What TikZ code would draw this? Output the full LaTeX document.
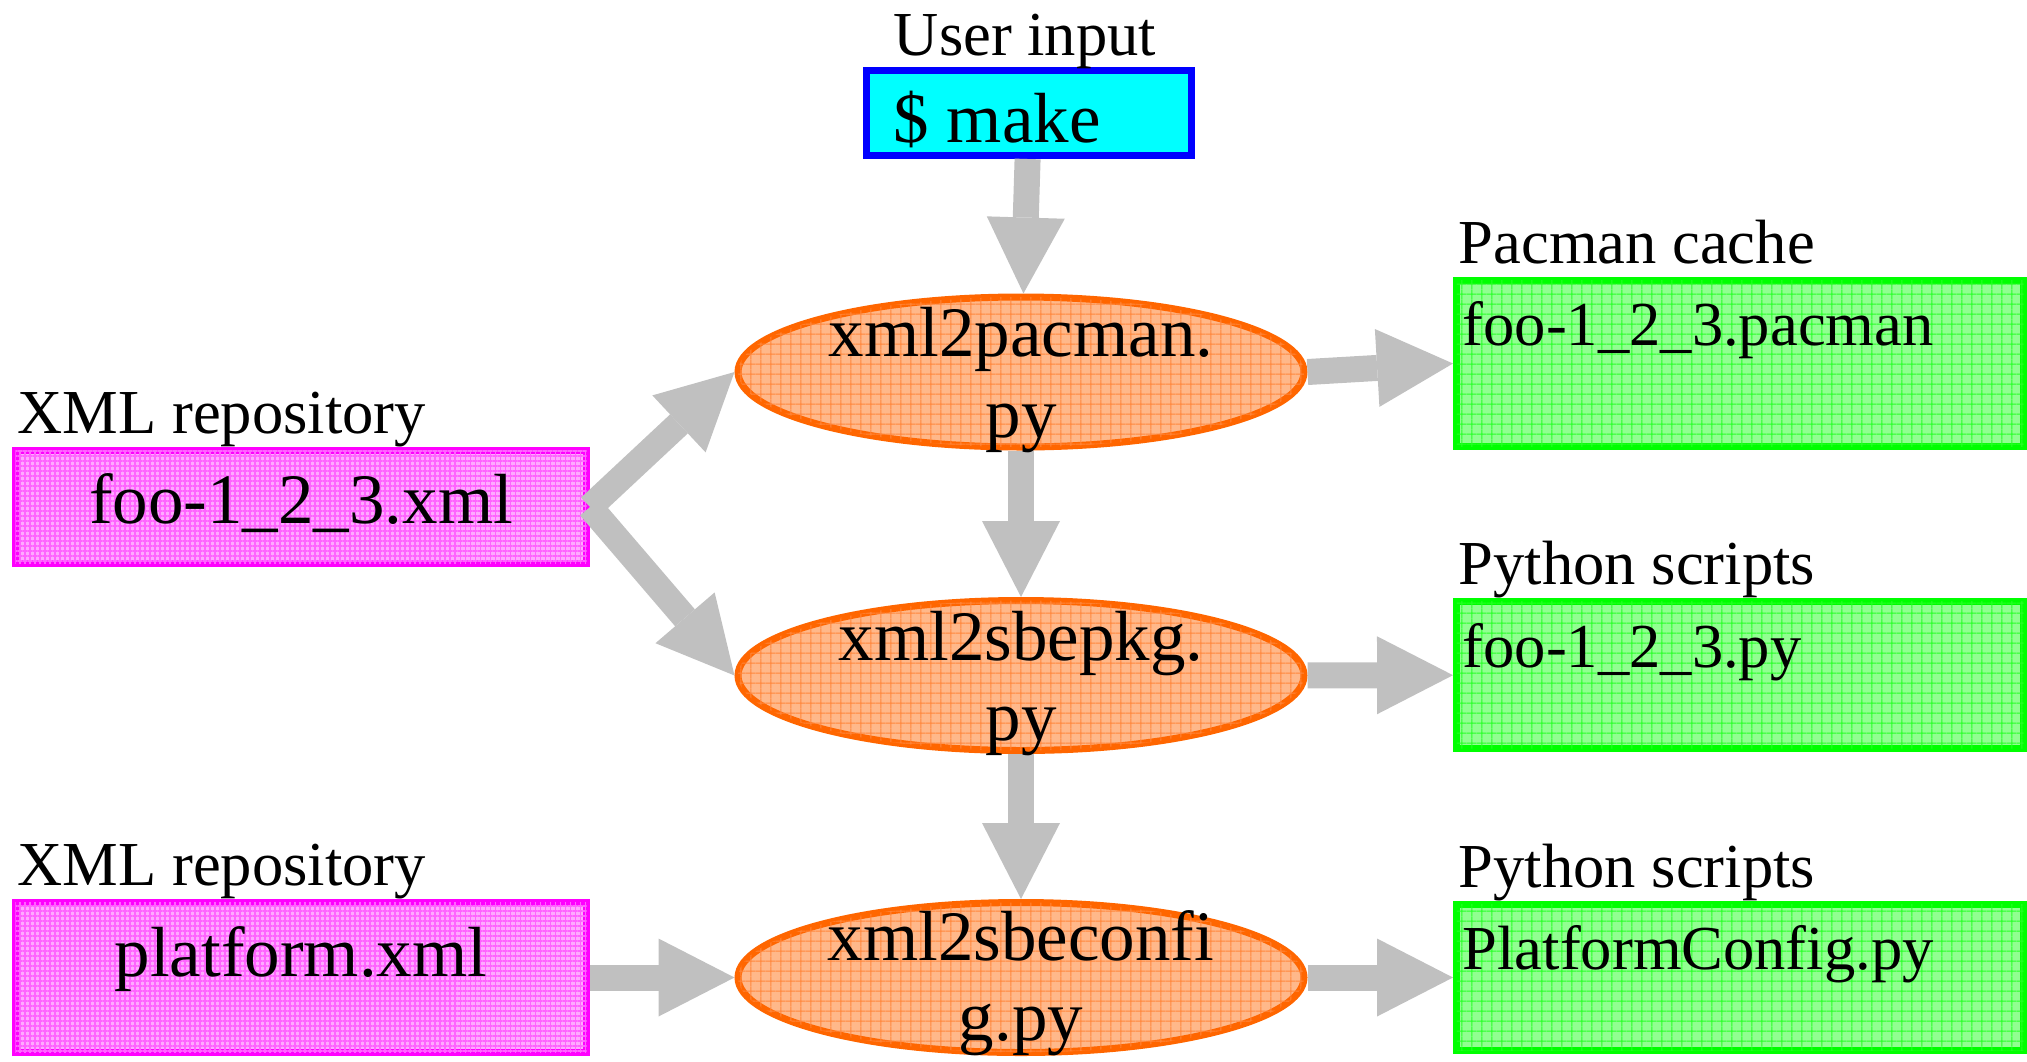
\documentclass[tikz,border=0pt]{standalone}
\usepackage{fontspec}
\setmainfont{Liberation Serif}
\usetikzlibrary{arrows.meta,patterns.meta,positioning,shapes.geometric}

\definecolor{cmdfill}{RGB}{0,255,255}
\definecolor{cmdline}{RGB}{0,0,255}
\definecolor{xmlline}{RGB}{255,0,255}
\definecolor{xmlfill}{RGB}{255,170,255}
\definecolor{xmlgrid}{RGB}{255,100,255}
\definecolor{genline}{RGB}{0,255,0}
\definecolor{genfill}{RGB}{145,255,145}
\definecolor{gengrid}{RGB}{40,255,40}
\definecolor{toolline}{RGB}{255,102,0}
\definecolor{toolfill}{RGB}{255,184,138}
\definecolor{toolgrid}{RGB}{255,135,60}
\definecolor{flowgray}{RGB}{192,192,192}

\newcommand{\tagsize}{\fontsize{17.8pt}{20pt}\selectfont}
\newcommand{\namesize}{\fontsize{20.2pt}{22.8pt}\selectfont}

\tikzset{
  filebox/.style={rectangle, line width=0.07cm, inner sep=0pt},
  cmdbox/.style={filebox, draw=cmdline, fill=cmdfill},
  xmlbox/.style={filebox, draw=xmlline, fill=xmlfill,
    minimum width=5.71cm,
    postaction={pattern={Hatch[angle=0,distance=0.05cm,line width=0.3pt]},
      pattern color=xmlgrid}},
  genbox/.style={filebox, draw=genline, fill=genfill,
    minimum width=5.67cm,
    postaction={pattern={Hatch[angle=0,distance=0.103cm,line width=0.3pt]},
      pattern color=gengrid}},
  tool/.style={ellipse, line width=0.07cm, inner sep=0pt,
    draw=toolline, fill=toolfill,
    minimum width=5.66cm, minimum height=1.50cm,
    postaction={pattern={Hatch[angle=0,distance=0.103cm,line width=0.3pt]},
      pattern color=toolgrid}},
  flow/.style={draw=flowgray, line width=0.26cm,
    -{Triangle[width=0.78cm,length=0.76cm,line width=0pt]}},
  tag/.style={font=\tagsize, inner sep=0pt, anchor=base west},
  fname/.style={font=\namesize, inner sep=0pt, anchor=base},
  toolname/.style={font=\namesize, inner sep=0pt, align=center},
}

\begin{document}
\begin{tikzpicture}[every node/.style={text=black}]
\useasboundingbox (0,0) rectangle (20.27,10.61);
% Command that starts the build
\node[cmdbox, minimum width=3.25cm, minimum height=0.85cm] (make) at (10.29,9.48) {};
% XML sources
\node[xmlbox, minimum height=1.13cm] (fooxml) at (3.01,5.54) {};
\node[xmlbox, minimum height=1.50cm] (platxml) at (3.01,0.835) {};
% Generator scripts
\node[tool] (pacgen) at (10.21,6.89) {};
\node[tool] (pkggen) at (10.21,3.855) {};
\node[tool] (cfggen) at (10.21,0.835) {};
% Generated files
\node[genbox, minimum height=1.66cm] (pacout) at (17.40,6.975) {};
\node[genbox, minimum height=1.47cm] (pyout) at (17.40,3.86) {};
\node[genbox, minimum height=1.46cm] (cfgout) at (17.40,0.835) {};
% Flow between the steps
\draw[flow] (make) -- (pacgen);
\draw[flow] (pacgen) -- (pkggen);
\draw[flow] (pkggen) -- (cfggen);
\draw[flow] (fooxml.east) -- (pacgen.west);
\draw[flow] (fooxml.east) -- (pkggen.west);
\draw[flow] (platxml) -- (cfggen);
\draw[flow] (pacgen.east) -- (pacout.west);
\draw[flow] (pkggen) -- (pyout);
\draw[flow] (cfggen) -- (cfgout);
% Captions above the boxes
\node[tag, anchor=base] (usertag) at ([shift={(-0.04,0.12)}]make.north) {User input};
\node[tag] (repotag1) at ([shift={(0.05,0.14)}]fooxml.north west) {XML repository};
\node[tag] (repotag2) at ([shift={(0.05,0.14)}]platxml.north west) {XML repository};
\node[tag] (cachetag) at ([shift={(0.05,0.14)}]pacout.north west) {Pacman cache};
\node[tag] (pytag1) at ([shift={(0.05,0.14)}]pyout.north west) {Python scripts};
\node[tag] (pytag2) at ([shift={(0.05,0.14)}]cfgout.north west) {Python scripts};
% Text inside the boxes
\node[fname, anchor=base west] (maketxt) at ([shift={(0.30,-0.75)}]make.north west) {\$ make};
\node[fname] (fooxmltxt) at ([yshift=-0.76cm]fooxml.north) {foo-1\_2\_3.xml};
\node[fname] (platxmltxt) at ([yshift=-0.77cm]platxml.north) {platform.xml};
\node[toolname] (pacgentxt) at ([yshift=-0.08cm]pacgen.center) {xml2pacman.\\py};
\node[toolname] (pkggentxt) at ([yshift=-0.08cm]pkggen.center) {xml2sbepkg.\\py};
\node[toolname] (cfggentxt) at ([yshift=-0.06cm]cfggen.center) {xml2sbeconfi\\g.py};
\node[tag] (pacouttxt) at ([shift={(0.09,-0.68)}]pacout.north west) {foo-1\_2\_3.pacman};
\node[tag] (pyouttxt) at ([shift={(0.09,-0.69)}]pyout.north west) {foo-1\_2\_3.py};
\node[tag] (cfgouttxt) at ([shift={(0.09,-0.68)}]cfgout.north west) {PlatformConfig.py};
\end{tikzpicture}
\end{document}
